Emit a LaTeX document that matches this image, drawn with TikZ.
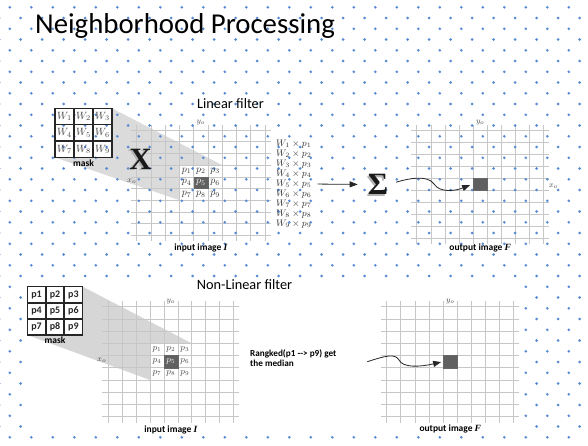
\RequirePackage{fix-cm}
\documentclass[tikz,border=0pt]{standalone}
\usepackage[no-math]{fontspec}
\newfontfamily\calibri{Carlito}
\newfontfamily\timesf{Liberation Serif}
\usetikzlibrary{arrows.meta}

\definecolor{dotblue}{RGB}{88,138,212}
\definecolor{darkcell}{RGB}{96,96,96}

\tikzset{
  gridline/.style={black!22, line width=0.6pt},
  maskline/.style={black!85, line width=1.5pt},
  flow/.style={line width=0.8pt, black!85, -{Triangle[length=8pt,width=6pt]}},
  darkbox/.style={fill=darkcell, draw=black!60, line width=0.4pt, inner sep=0pt},
  coord/.style={inner sep=0.75pt, black!70, font=\fontsize{8}{8}\selectfont},
  caption/.style={inner sep=0.75pt, font=\calibri\bfseries\fontsize{9.5}{10}\selectfont},
  heading/.style={anchor=base west, inner sep=0pt, font=\calibri\fontsize{14.3}{16}\selectfont},
  wlabel/.style={inner sep=0pt, black!75, font=\fontsize{10.5}{10.5}\selectfont},
  plabel/.style={inner sep=0pt, font=\fontsize{10}{10}\selectfont},
  pmask/.style={inner sep=0pt, black!85, font=\calibri\bfseries\fontsize{10}{10}\selectfont},
  bigsign/.style={inner sep=0pt, font=\timesf\bfseries\fontsize{31}{31}\selectfont},
}

\begin{document}
\begin{tikzpicture}[x=1pt,y=1pt,yscale=-1,xscale=1]
\useasboundingbox (0,0) rectangle (588,445);

%Shape: wedge from the linear mask to its window
\fill[black!14] (112,108.3) -- (222.2,165.1) -- (179.45,165.1) -- (179.45,200.2) -- (55,157.5) -- (112,157.5) -- cycle ;

%Grid: input image (linear)
\foreach \i in {0,...,9} \draw[gridline] (136.7+14.25*\i,125) -- (136.7+14.25*\i,241) ;
\foreach \j in {0,...,9} \draw[gridline] (131,130+11.7*\j) -- (271,130+11.7*\j) ;
%Grid: output image (linear)
\foreach \i in {0,...,9} \draw[gridline] (416.7+14.1*\i,125) -- (416.7+14.1*\i,244) ;
\foreach \j in {0,...,9} \draw[gridline] (411,130+12*\j) -- (549,130+12*\j) ;

%Dotted background
\foreach \j in {0,...,20}
  \foreach \i in {0,...,26}
    \fill[dotblue] (9.8+21.5*\i,7.3+21.5*\j) circle (1.45) ;
\foreach \j in {0,...,19}
  \foreach \i in {0,...,27}
    \fill[dotblue] (-0.9+21.5*\i,18+21.5*\j) circle (1.45) ;

% Text Node
\draw (35,33.3) node [anchor=base west, inner sep=0pt, font=\calibri\fontsize{28.8}{30}\selectfont] (title) {Neighborhood Processing};
% Text Node
\draw (197,108.3) node [heading] (linhead) {Linear filter};

%Shape: linear mask
\foreach \c in {0,...,3} \draw[maskline] (55+19*\c,108.3) -- (55+19*\c,157.5) ;
\foreach \r in {0,...,3} \draw[maskline] (55,108.3+16.4*\r) -- (112,108.3+16.4*\r) ;
\foreach \k/\c/\r in {1/0/0,2/1/0,3/2/0,4/0/1,5/1/1,6/2/1,7/0/2,8/1/2,9/2/2}
  \draw (64.5+19*\c,116.5+16.4*\r) node [wlabel] (w\k) {$W_{\k}$};
% Text Node
\draw (83.5,163) node [caption] (maskA) {mask};

% Text Node
\draw (138.5,160.5) node [bigsign, black!30] (timesshade) {X};
\draw (140.5,159) node [bigsign, black!90] (times) {X};

%Shape: window centre (linear)
\draw[darkbox] (193.7,176.8) rectangle (207.95,188.5) ;
\foreach \k/\c/\r/\col in {1/0/0/black,2/1/0/black,3/2/0/black,4/0/1/black,5/1/1/white,6/2/1/black,7/0/2/black,8/1/2/black,9/2/2/black}
  \draw (186.6+14.25*\c,170.95+11.7*\r) node [plabel, text=\col!80] (pa\k) {$p_{\k}$};

% Text Node
\draw (200.8,122.5) node [coord] (yA) {$y_o$};
\draw (131.7,181.7) node [coord] (xA) {$x_o$};
\draw (200.8,248) node [caption] (inA) {input image {\timesf\bfseries\itshape I}};

% Text Node
\draw (276,184) node [anchor=west, inner sep=0pt, align=left, black!80, font=\fontsize{9.5}{10}\selectfont] (prods)
  {$W_1\times p_1$\\$W_2\times p_2$\\$W_3\times p_3$\\$W_4\times p_4$\\$W_5\times p_5$\\$W_6\times p_6$\\$W_7\times p_7$\\$W_8\times p_8$\\$W_9\times p_9$};

% Text Node
\draw (376.5,186) node [bigsign, black!30] (sigmashade) {Σ};
\draw (378,184.5) node [bigsign, black!90] (sigma) {Σ};

%Shape: output pixel (linear)
\draw (480.15,184) node [darkbox, minimum width=14.1pt, minimum height=12pt] (outA) {};

%Straight Lines
\draw[flow, shorten <=6pt, shorten >=10pt] (prods.east) -- (sigma.west) ;
%Curve Lines
\draw[flow, shorten <=8pt, shorten >=3pt] (sigma.east) .. controls (410,178) and (428,175) .. (434,184) .. controls (440,193) and (455,191) .. (outA.west) ;

% Text Node
\draw (480.2,122.5) node [coord] (yB) {$y_o$};
\draw (553.3,186.7) node [coord] (xB) {$x_o$};
\draw (480.2,248) node [caption] (outcapA) {output image {\timesf\bfseries\itshape F}};

%Shape: background of the median picture
\fill[white] (24,281) rectangle (520,431) ;

% Text Node
\draw (196.7,289.3) node [heading] (nonlinhead) {Non-Linear filter};

%Shape: wedge from the median mask to its window
\fill[black!16] (82.7,286.7) -- (191.7,343.3) -- (150,343.3) -- (150,379.9) -- (27.3,335) -- (82.7,335) -- cycle ;

%Grid: input image (median)
\foreach \i in {0,...,9} \draw[gridline] (108.3+13.9*\i,301) -- (108.3+13.9*\i,423) ;
\foreach \j in {0,...,9} \draw[gridline] (102,306.7+12.2*\j) -- (239,306.7+12.2*\j) ;
%Grid: output image (median)
\foreach \i in {0,...,9} \draw[gridline] (386.7+14.07*\i,301) -- (386.7+14.07*\i,423) ;
\foreach \j in {0,...,9} \draw[gridline] (381,306.7+12.2*\j) -- (519,306.7+12.2*\j) ;

%Shape: median mask
\foreach \c in {0,...,3} \draw[maskline] (27.3+18.47*\c,286.7) -- (27.3+18.47*\c,335) ;
\foreach \r in {0,...,3} \draw[maskline] (27.3,286.7+16.1*\r) -- (82.7,286.7+16.1*\r) ;
\foreach \k/\c/\r in {1/0/0,2/1/0,3/2/0,4/0/1,5/1/1,6/2/1,7/0/2,8/1/2,9/2/2}
  \draw (36.5+18.47*\c,294.7+16.1*\r) node [pmask] (m\k) {p\k};
% Text Node
\draw (55,340.5) node [caption] (maskB) {mask};

%Shape: window centre (median)
\draw[darkbox] (163.9,355.5) rectangle (177.8,367.7) ;
\foreach \k/\c/\r/\col in {1/0/0/black,2/1/0/black,3/2/0/black,4/0/1/black,5/1/1/white,6/2/1/black,7/0/2/black,8/1/2/black,9/2/2/black}
  \draw (157+13.9*\c,349.4+12.2*\r) node [plabel, text=\col!70, font=\fontsize{9}{9}\selectfont] (pb\k) {$p_{\k}$};

% Text Node
\draw (170.8,302) node [coord] (yC) {$y_o$};
\draw (101.7,360.5) node [coord] (xC) {$x_o$};
\draw (170.8,430) node [caption] (inB) {input image {\timesf\bfseries\itshape I}};

% Text Node
\draw (250,358.3) node [anchor=west, inner sep=0pt, align=left, font=\calibri\bfseries\fontsize{9.2}{10}\selectfont] (rank) {Rangked(p1 {-}{-}> p9) get\\the median};

%Shape: output pixel (median)
\draw (450.3,361.6) node [darkbox, minimum width=14.1pt, minimum height=12.2pt] (outB) {};
\coordinate (wavestart) at (367.3,361.7) ;
%Curve Lines
\draw[flow, shorten >=2pt] (wavestart) .. controls (385,356) and (395,353) .. (399,360) .. controls (403,368) and (420,367) .. (outB.west) ;

% Text Node
\draw (450.3,302) node [coord] (yD) {$y_o$};
\draw (450.3,428.5) node [caption] (outcapB) {output image {\timesf\bfseries\itshape F}};

\end{tikzpicture}
\end{document}
